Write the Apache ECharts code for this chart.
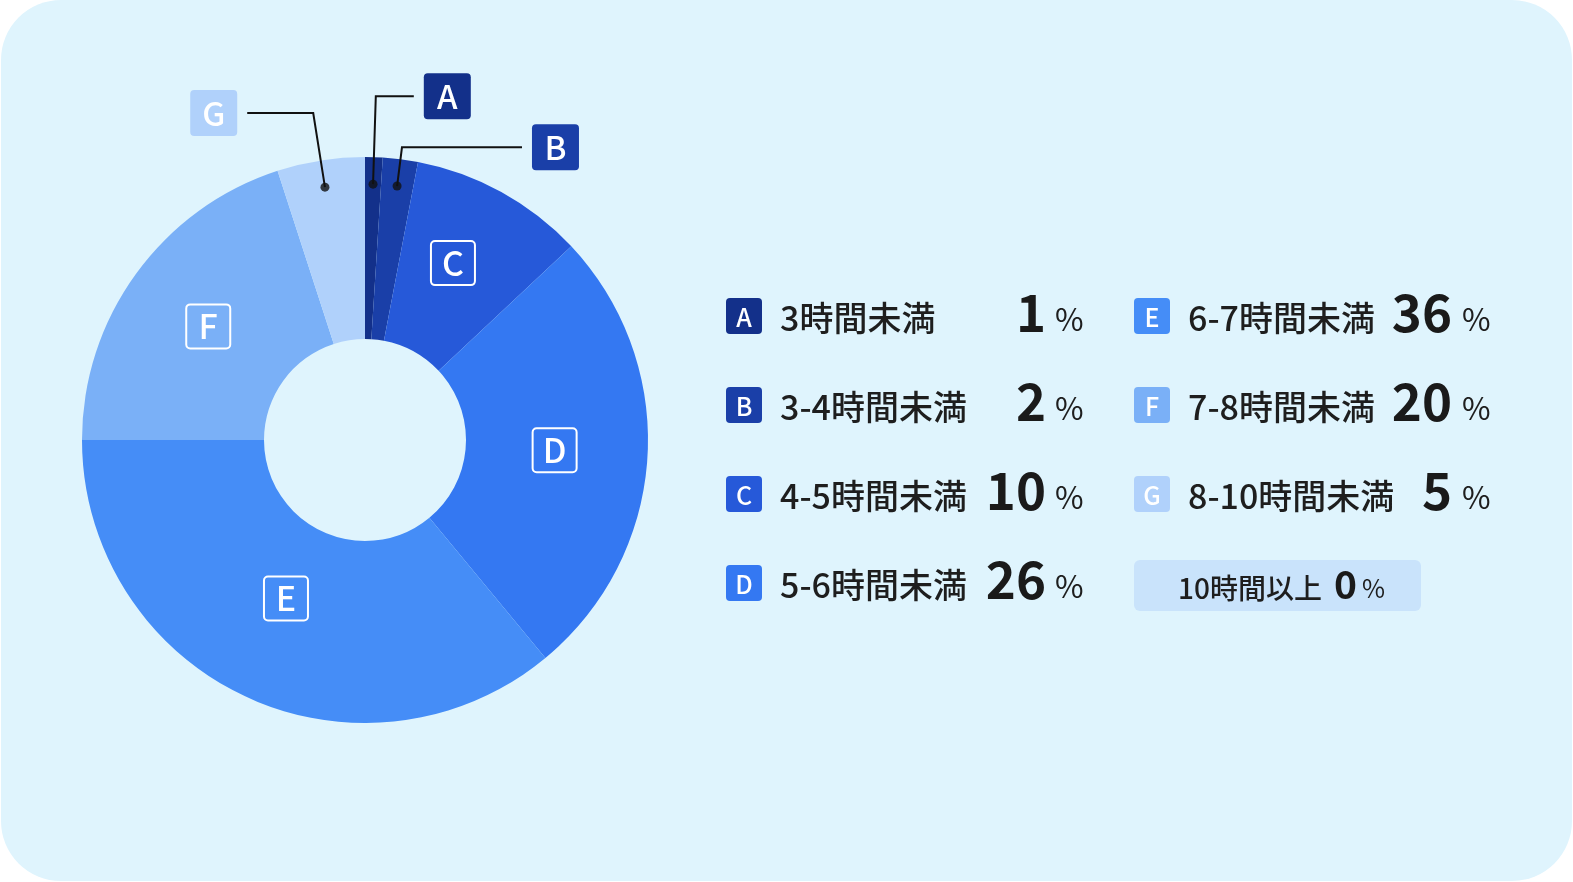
<!DOCTYPE html>
<html><head><meta charset="utf-8">
<script src="https://cdn.jsdelivr.net/npm/echarts@6/dist/echarts.min.js"></script>
<style>
html,body{margin:0;padding:0;background:#ffffff;}
#c{width:1571px;height:881px;margin-left:1px;border-radius:60px;background:#dff4fd;overflow:hidden;}
</style>
</head><body><div id="c"></div>
<script>
// ---- data ----
const letters = ['A', 'B', 'C', 'D', 'E', 'F', 'G', 'H'];
const categories = ['3時間未満', '3-4時間未満', '4-5時間未満', '5-6時間未満', '6-7時間未満', '7-8時間未満', '8-10時間未満', '10時間以上'];
const values = [1, 2, 10, 26, 36, 20, 5, 0];

// ---- styles ----
const palette = ['#13308a', '#1a3fa8', '#2659d9', '#3478f2', '#458df7', '#7ab0f7', '#b0d1fb', '#c9e3fb'];
const FONT = '"Noto Sans CJK JP", "Noto Sans", sans-serif';
const insideOffsets = { C: [-6, -6], D: [-5, -2], E: [4, -18], F: [1, 1] };
const callouts = { A: [88, 38], B: [39, 120], G: [75, 66] };
const INSIDE_MIN = 10;

const total = values.reduce((a, b) => a + b, 0);

const ringData = [], calloutData = [], dotData = [];
let cum = 0;
values.forEach((v, i) => {
  if (v <= 0) return;
  const name = letters[i];
  const inside = v >= INSIDE_MIN;
  ringData.push({
    name, value: v,
    itemStyle: { color: palette[i] },
    label: inside ? { show: true, offset: insideOffsets[name] || [0, 0] } : { show: false }
  });
  const c = callouts[name];
  calloutData.push(inside || !c ? {
    name, value: v, label: { show: false }, labelLine: { show: false }
  } : {
    name, value: v,
    label: {
      show: true,
      rich: { box: { width: 47, height: 46, lineHeight: 46, align: 'center', verticalAlign: 'middle',
        backgroundColor: palette[i], borderRadius: 4, fontSize: 33, fontWeight: 500, color: '#ffffff', fontFamily: FONT } }
    },
    labelLine: { show: true, length: c[0], length2: c[1] }
  });
  if (!inside) dotData.push([1, cum + v / 2]);
  cum += v;
});

// ---- legend (graphic) ----
const graphics = [];
const col = [
  { box: 725, label: 779, numR: 1045, pct: 1054 },
  { box: 1133, label: 1187, numR: 1451, pct: 1461 }
];
const rowY0 = 316, rowStep = 89;
values.forEach((v, i) => {
  const c = col[i < 4 ? 0 : 1];
  const r = i < 4 ? i : i - 4;
  const cy = rowY0 + r * rowStep;
  if (i === 7) {
    graphics.push({ type: 'rect', shape: { x: c.box, y: cy - 23, width: 287, height: 51, r: 6 }, style: { fill: palette[i] } });
    graphics.push({ type: 'text', x: 1177, y: cy + 5, style: { text: categories[i], font: '500 28px ' + FONT, fill: '#1e1e1e', align: 'left', verticalAlign: 'middle' } });
    graphics.push({ type: 'text', x: 1333, y: cy + 1, style: { text: String(v), font: 'bold 39px ' + FONT, fill: '#1a1a1a', align: 'left', verticalAlign: 'middle' } });
    graphics.push({ type: 'text', x: 1361, y: cy + 5, style: { text: '%', font: '400 25px ' + FONT, fill: '#1e1e1e', align: 'left', verticalAlign: 'middle' } });
    return;
  }
  graphics.push({ type: 'rect', shape: { x: c.box, y: cy - 18, width: 36, height: 36, r: 4 }, style: { fill: palette[i] } });
  graphics.push({ type: 'text', x: c.box + 18, y: cy + 1, style: { text: letters[i], font: '500 25px ' + FONT, fill: '#ffffff', align: 'center', verticalAlign: 'middle' } });
  graphics.push({ type: 'text', x: c.label, y: cy + 2, style: { text: categories[i], font: '500 34px ' + FONT, fill: '#1e1e1e', align: 'left', verticalAlign: 'middle' } });
  graphics.push({ type: 'text', x: c.numR, y: cy - 3, style: { text: String(v), font: 'bold 51px ' + FONT, fill: '#1a1a1a', align: 'right', verticalAlign: 'middle' } });
  graphics.push({ type: 'text', x: c.pct, y: cy + 3, style: { text: '%', font: '400 31px ' + FONT, fill: '#1e1e1e', align: 'left', verticalAlign: 'middle' } });
});

const chart = echarts.init(document.getElementById('c'), null, { renderer: 'canvas' });
chart.setOption({
  backgroundColor: 'transparent',
  animation: false,
  textStyle: { fontFamily: FONT },
  polar: { center: [364, 440], radius: 256 },
  angleAxis: { type: 'value', min: 0, max: total, startAngle: 90, clockwise: true, show: false,
    axisLine: { show: false }, splitLine: { show: false }, axisLabel: { show: false }, axisTick: { show: false } },
  radiusAxis: { type: 'value', min: 0, max: 1, show: false,
    axisLine: { show: false }, splitLine: { show: false }, axisLabel: { show: false }, axisTick: { show: false } },
  graphic: { elements: graphics },
  series: [
    {
      type: 'pie', center: [364, 440], radius: [101, 283], startAngle: 90, clockwise: true,
      avoidLabelOverlap: false, silent: true, emphasis: { disabled: true }, z: 2,
      itemStyle: { borderWidth: 0 },
      label: {
        show: true, position: 'inside', formatter: '{box|{b}}',
        rich: { box: { width: 44, height: 44, lineHeight: 44, align: 'center', verticalAlign: 'middle',
          borderColor: '#ffffff', borderWidth: 2, borderRadius: 4, fontSize: 34, fontWeight: 500, color: '#ffffff', fontFamily: FONT } }
      },
      labelLine: { show: false },
      data: ringData
    },
    {
      type: 'pie', center: [364, 440], radius: [0, 256], startAngle: 90, clockwise: true,
      avoidLabelOverlap: false, silent: true, emphasis: { disabled: true }, z: 3,
      itemStyle: { color: 'rgba(0,0,0,0)', borderWidth: 0 },
      label: { show: true, position: 'outside', formatter: '{box|{b}}', distanceToLabelLine: 10, alignTo: 'none' },
      labelLine: { show: true, smooth: false, lineStyle: { color: '#111111', width: 2 } },
      data: calloutData
    },
    {
      type: 'scatter', coordinateSystem: 'polar', silent: true, z: 4,
      symbol: 'circle', symbolSize: 9, itemStyle: { color: '#111111' },
      data: dotData
    }
  ]
});
</script>
</body></html>
